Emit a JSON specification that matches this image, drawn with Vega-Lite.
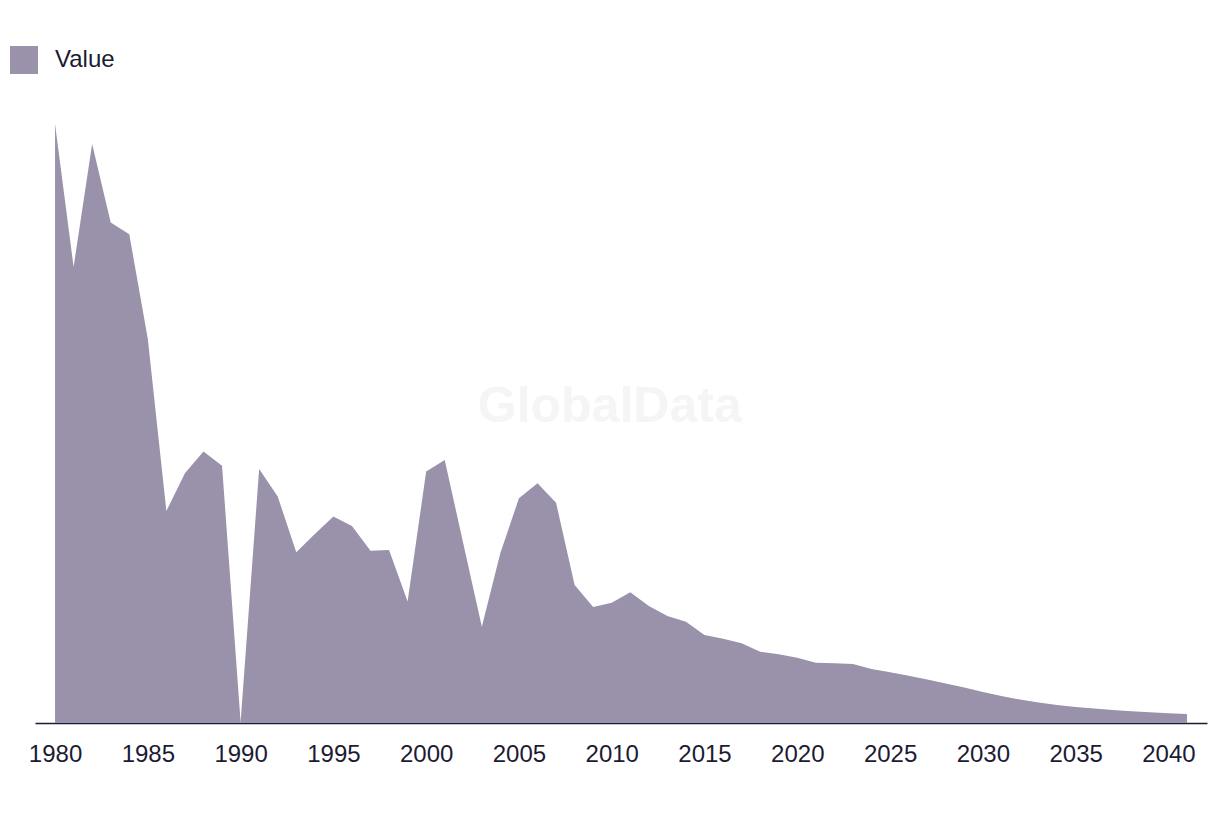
{
  "$schema": "https://vega.github.io/schema/vega-lite/v6.json",
  "width": 1172,
  "height": 623,
  "autosize": {"type": "none"},
  "padding": {"left": 35, "top": 100, "right": 13, "bottom": 91},
  "background": "#ffffff",
  "config": {
    "view": {"stroke": null},
    "font": "Liberation Sans"
  },
  "data": {
    "values": [
      {"year": 1980, "value": 599, "series": "Value"},
      {"year": 1981, "value": 456, "series": "Value"},
      {"year": 1982, "value": 579, "series": "Value"},
      {"year": 1983, "value": 500.5, "series": "Value"},
      {"year": 1984, "value": 488.7, "series": "Value"},
      {"year": 1985, "value": 384, "series": "Value"},
      {"year": 1986, "value": 212, "series": "Value"},
      {"year": 1987, "value": 249.7, "series": "Value"},
      {"year": 1988, "value": 271.5, "series": "Value"},
      {"year": 1989, "value": 257.3, "series": "Value"},
      {"year": 1990, "value": 1, "series": "Value"},
      {"year": 1991, "value": 254, "series": "Value"},
      {"year": 1992, "value": 226.5, "series": "Value"},
      {"year": 1993, "value": 170.7, "series": "Value"},
      {"year": 1994, "value": 189, "series": "Value"},
      {"year": 1995, "value": 206.5, "series": "Value"},
      {"year": 1996, "value": 197, "series": "Value"},
      {"year": 1997, "value": 172.3, "series": "Value"},
      {"year": 1998, "value": 173, "series": "Value"},
      {"year": 1999, "value": 121.5, "series": "Value"},
      {"year": 2000, "value": 251.5, "series": "Value"},
      {"year": 2001, "value": 263, "series": "Value"},
      {"year": 2002, "value": 179.5, "series": "Value"},
      {"year": 2003, "value": 96.3, "series": "Value"},
      {"year": 2004, "value": 170, "series": "Value"},
      {"year": 2005, "value": 224.7, "series": "Value"},
      {"year": 2006, "value": 239.7, "series": "Value"},
      {"year": 2007, "value": 220.3, "series": "Value"},
      {"year": 2008, "value": 138, "series": "Value"},
      {"year": 2009, "value": 116, "series": "Value"},
      {"year": 2010, "value": 120.3, "series": "Value"},
      {"year": 2011, "value": 130.7, "series": "Value"},
      {"year": 2012, "value": 117, "series": "Value"},
      {"year": 2013, "value": 107, "series": "Value"},
      {"year": 2014, "value": 101.3, "series": "Value"},
      {"year": 2015, "value": 88, "series": "Value"},
      {"year": 2016, "value": 84.3, "series": "Value"},
      {"year": 2017, "value": 79.7, "series": "Value"},
      {"year": 2018, "value": 71.3, "series": "Value"},
      {"year": 2019, "value": 68.7, "series": "Value"},
      {"year": 2020, "value": 65.3, "series": "Value"},
      {"year": 2021, "value": 60.3, "series": "Value"},
      {"year": 2022, "value": 59.7, "series": "Value"},
      {"year": 2023, "value": 59, "series": "Value"},
      {"year": 2024, "value": 54, "series": "Value"},
      {"year": 2025, "value": 50.7, "series": "Value"},
      {"year": 2026, "value": 47.3, "series": "Value"},
      {"year": 2027, "value": 43.5, "series": "Value"},
      {"year": 2028, "value": 39.5, "series": "Value"},
      {"year": 2029, "value": 35.5, "series": "Value"},
      {"year": 2030, "value": 31, "series": "Value"},
      {"year": 2031, "value": 27, "series": "Value"},
      {"year": 2032, "value": 23.5, "series": "Value"},
      {"year": 2033, "value": 20.5, "series": "Value"},
      {"year": 2034, "value": 18, "series": "Value"},
      {"year": 2035, "value": 16, "series": "Value"},
      {"year": 2036, "value": 14.5, "series": "Value"},
      {"year": 2037, "value": 13, "series": "Value"},
      {"year": 2038, "value": 11.7, "series": "Value"},
      {"year": 2039, "value": 10.7, "series": "Value"},
      {"year": 2040, "value": 9.8, "series": "Value"},
      {"year": 2041, "value": 9, "series": "Value"}
    ]
  },
  "encoding": {
    "x": {
      "field": "year",
      "type": "quantitative",
      "scale": {"domain": [1978.92, 2042.08], "nice": false, "zero": false},
      "axis": {
        "title": null,
        "values": [1980, 1985, 1990, 1995, 2000, 2005, 2010, 2015, 2020, 2025, 2030, 2035, 2040],
        "format": "d",
        "grid": false,
        "ticks": false,
        "labelFontSize": 24,
        "labelFont": "Liberation Sans",
        "labelColor": "#1c1b33",
        "labelPadding": 19,
        "domainColor": "#1c1b33",
        "domainWidth": 1.5,
        "labelFlush": false,
        "labelOverlap": false
      }
    }
  },
  "layer": [
    {
      "transform": [{"filter": "datum.year == 2010"}],
      "mark": {"type": "text", "font": "Liberation Sans", "fontWeight": "bold", "fontSize": 50, "color": "#f5f5f5", "align": "center", "baseline": "middle", "dx": -2},
      "encoding": {
        "y": {"datum": 316, "type": "quantitative", "scale": {"domain": [0, 623], "nice": false}, "axis": null},
        "text": {"value": "GlobalData"}
      }
    },
    {
      "mark": {"type": "area", "opacity": 1},
      "encoding": {
        "y": {
          "field": "value",
          "type": "quantitative",
          "scale": {"domain": [0, 623], "nice": false},
          "axis": null
        },
        "color": {
          "field": "series",
          "type": "nominal",
          "scale": {"range": ["#9a91aa"]},
          "legend": {
            "title": null,
            "orient": "none",
            "legendX": -25,
            "legendY": -54,
            "symbolType": "square",
            "symbolSize": 784,
            "symbolStrokeWidth": 0,
            "symbolOpacity": 1,
            "labelFontSize": 24,
            "labelFont": "Liberation Sans",
            "labelColor": "#1c1b33",
            "labelOffset": 17
          }
        }
      }
    }
  ]
}
